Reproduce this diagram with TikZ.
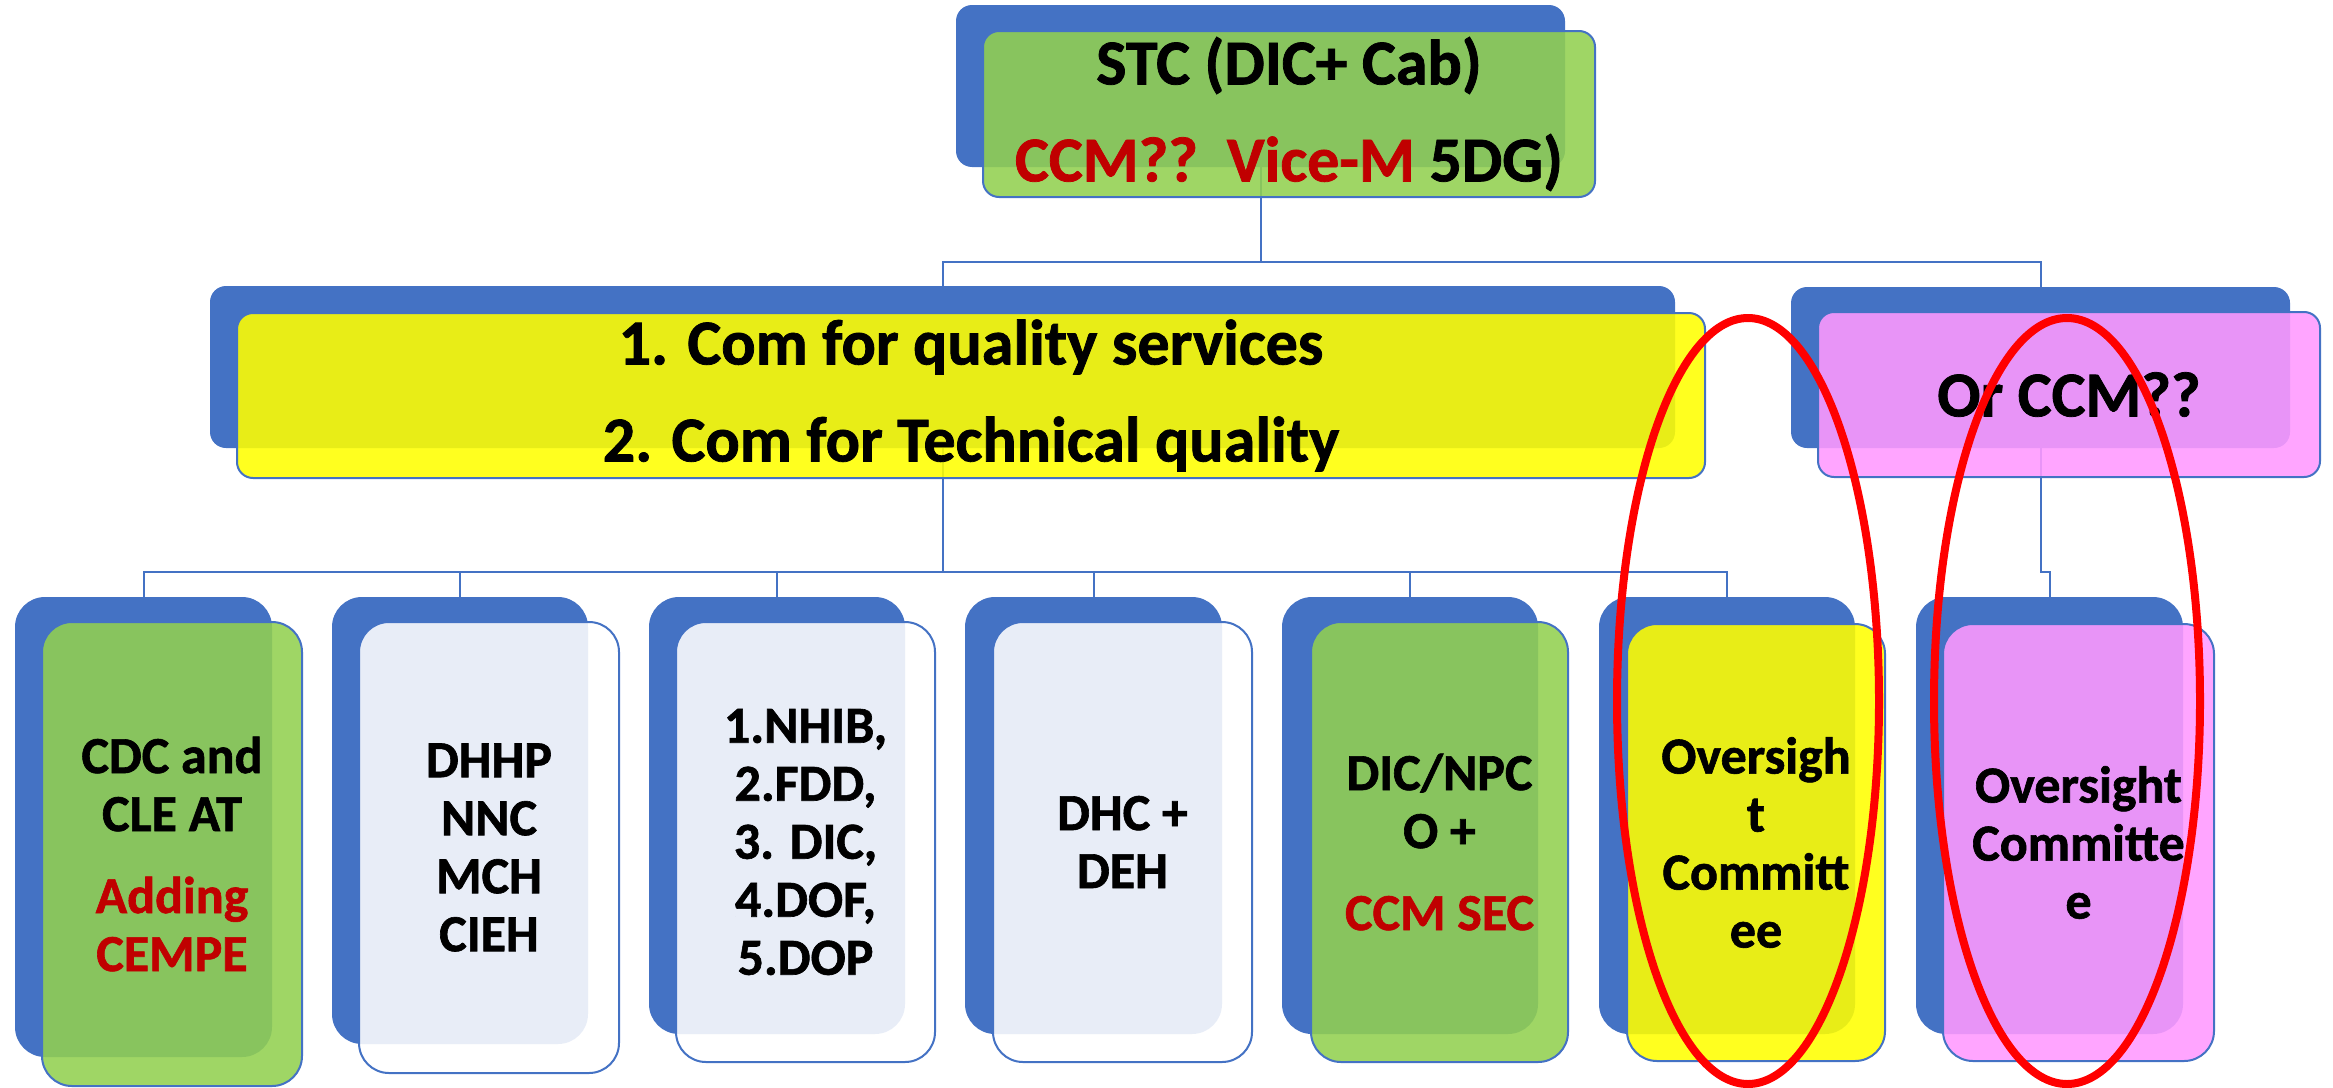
\documentclass[tikz,border=0pt]{standalone}
\usepackage{fontspec}
\setmainfont{Carlito}[BoldFeatures={FakeBold=1.2}]
\definecolor{cblue}{HTML}{4472C4}
\definecolor{cline}{HTML}{4472C4}
\definecolor{cred}{HTML}{C00000}
\definecolor{cgreen}{HTML}{92D050}
\definecolor{cyellow}{HTML}{FFFF00}
\definecolor{cpink}{HTML}{FF99FF}
\definecolor{cring}{HTML}{FF0000}
\begin{document}
\begin{tikzpicture}[x=1pt,y=-1pt,
  backbox/.style={fill=cblue, draw=none, inner sep=0pt, rounded corners=30pt},
  frontbox/.style={draw=cblue, line width=2pt, fill opacity=0.88, text opacity=1,
    inner sep=0pt, rounded corners=30pt, align=center,
    font=\bfseries\fontsize{52}{58}\selectfont},
  bigtext/.style={rounded corners=16pt, font=\bfseries\fontsize{64}{97}\selectfont},
  conn/.style={draw=cline, line width=2pt},
  ring/.style={draw=cring, line width=8pt}]
\useasboundingbox (0,0) rectangle (2333,1087);

% back boxes (org chart shapes)
\node[backbox, rounded corners=16pt, minimum width=609pt, minimum height=162pt] (stcB) at (1260.5,86) {};
\node[backbox, rounded corners=16pt, minimum width=1465pt, minimum height=162pt] (comB) at (942.5,367) {};
\node[backbox, rounded corners=16pt, minimum width=499pt, minimum height=161pt] (orB) at (2040.5,367.5) {};
\node[backbox, minimum width=257pt, minimum height=460pt] (b1) at (143.5,827) {};
\node[backbox, minimum width=256pt, minimum height=447pt] (b2) at (460,820.5) {};
\node[backbox, minimum width=256pt, minimum height=437pt] (b3) at (777,815.5) {};
\node[backbox, minimum width=257pt, minimum height=437pt] (b4) at (1093.5,815.5) {};
\node[backbox, minimum width=256pt, minimum height=437pt] (b5) at (1410,815.5) {};
\node[backbox, minimum width=256pt, minimum height=437pt] (b6) at (1727,815.5) {};
\node[backbox, minimum width=267pt, minimum height=437pt] (b7) at (2049.5,815.5) {};

% connectors
\draw[conn] (stcB.south) -- ++(0,95) -| (comB.north);
\draw[conn] (stcB.south) -- ++(0,95) -| (orB.north);
\foreach \b in {b1,b2,b3,b4,b5,b6}
  \draw[conn] (comB.south) -- ++(0,124) -| (\b.north);
\draw[conn] (orB.south) -- ++(0,124) -| (b7.north);

% front boxes
\node[frontbox, bigtext, fill=cgreen, minimum width=612pt, minimum height=166pt] (stc) at (1289,114)
  {STC (DIC+ Cab)\\\textcolor{cred}{CCM??\ \ Vice-M} 5DG)};
\node[frontbox, bigtext, fill=cyellow, minimum width=1468pt, minimum height=165pt] (com) at (971,395.5)
  {1. Com for quality services\\2. Com for Technical quality};
\node[frontbox, bigtext, fill=cpink, minimum width=502pt, minimum height=165pt] (orccm) at (2069,394.5)
  {Or CCM??};
\node[frontbox, fill=cgreen, minimum width=260pt, minimum height=464pt] (f1) at (172,854)
  {CDC and\\CLE AT\\[24pt]\textcolor{cred}{Adding}\\\textcolor{cred}{CEMPE}};
\node[frontbox, fill=white, minimum width=260pt, minimum height=451pt] (f2) at (489,847.5)
  {DHHP\\NNC\\MCH\\CIEH};
\node[frontbox, fill=white, minimum width=259pt, minimum height=440pt] (f3) at (805.5,842)
  {1.NHIB,\\2.FDD,\\3. DIC,\\4.DOF,\\5.DOP};
\node[frontbox, fill=white, minimum width=259pt, minimum height=440pt] (f4) at (1122.5,842)
  {DHC +\\DEH};
\node[frontbox, fill=cgreen, minimum width=257pt, minimum height=440pt] (f5) at (1439.5,842)
  {DIC/NPC\\O +\\[24pt]\textcolor{cred}{CCM SEC}};
\node[frontbox, fill=cyellow, minimum width=258pt, minimum height=437pt] (f6) at (1756,842.5)
  {Oversigh\\t\\Committ\\ee};
\node[frontbox, fill=cpink, minimum width=271pt, minimum height=437pt] (f7) at (2078.5,842.5)
  {Oversight\\Committe\\e};

% red rings
\draw[ring] (1748,701) ellipse [x radius=131pt, y radius=383pt];
\draw[ring] (2067,701) ellipse [x radius=133pt, y radius=383pt];
\end{tikzpicture}
\end{document}
